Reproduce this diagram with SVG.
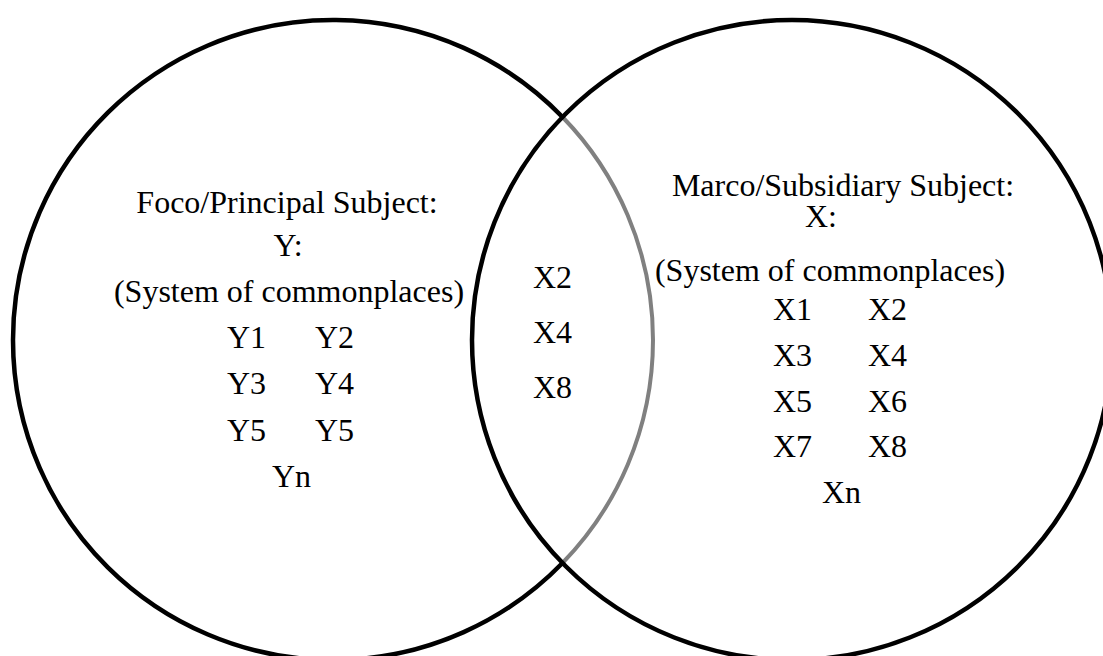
<svg xmlns="http://www.w3.org/2000/svg" width="1103" height="656" viewBox="0 0 1103 656">
  <style>
    .ring { fill: none; stroke: #000; stroke-width: 4.5; }
    .overlap { fill: none; stroke: #808080; stroke-width: 4; }
    text { font-family: "Liberation Serif", "Times New Roman", serif; font-size: 32px; fill: #000; }
    .c { text-anchor: middle; }
  </style>
  <rect width="1103" height="656" fill="#fff"/>

  <!-- circle outlines: left circle split so its arc inside the right circle is grey -->
  <g id="outlines">
    <path class="ring" d="M 562.5 117 A 320 320 0 1 0 562.5 563"/>
    <path class="overlap" d="M 562.5 117 A 320 320 0 0 1 562.5 563"/>
    <circle class="ring" cx="792" cy="340" r="320"/>
  </g>

  <!-- left set: principal subject -->
  <g id="focus">
    <text class="c" x="287" y="213">Foco/Principal Subject:</text>
    <text class="c" x="288" y="256">Y:</text>
    <text class="c" x="289" y="302">(System of commonplaces)</text>
    <text x="227" y="348">Y1</text>
    <text x="315" y="348">Y2</text>
    <text x="227" y="394">Y3</text>
    <text x="315" y="394">Y4</text>
    <text x="227" y="441">Y5</text>
    <text x="315" y="441">Y5</text>
    <text x="272" y="487">Yn</text>
  </g>

  <!-- shared traits -->
  <g id="overlap">
    <text x="533" y="288">X2</text>
    <text x="533" y="343">X4</text>
    <text x="533" y="398">X8</text>
  </g>

  <!-- right set: subsidiary subject -->
  <g id="frame">
    <text class="c" x="843" y="196">Marco/Subsidiary Subject:</text>
    <text class="c" x="821" y="227">X:</text>
    <text class="c" x="830" y="281">(System of commonplaces)</text>
    <text x="773" y="320">X1</text>
    <text x="868" y="320">X2</text>
    <text x="773" y="366">X3</text>
    <text x="868" y="366">X4</text>
    <text x="773" y="412">X5</text>
    <text x="868" y="412">X6</text>
    <text x="773" y="457">X7</text>
    <text x="868" y="457">X8</text>
    <text x="822" y="503">Xn</text>
  </g>
</svg>
